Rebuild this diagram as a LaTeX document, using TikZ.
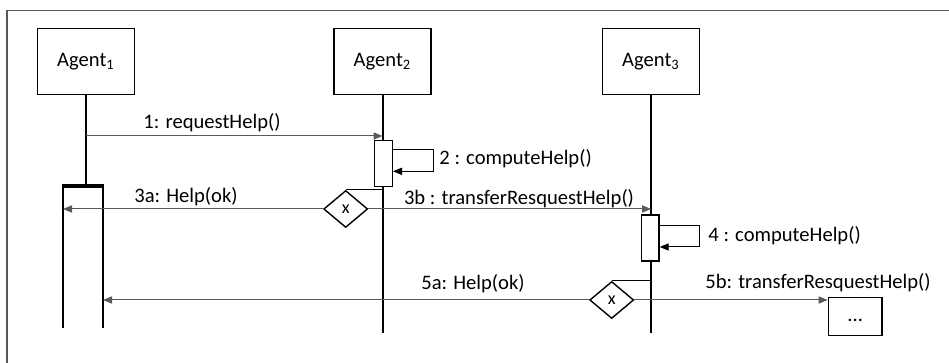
\documentclass[tikz,border=0pt]{standalone}
\usepackage{fontspec}
\setmainfont{Carlito}
\usepackage{tikz}
\usetikzlibrary{arrows.meta, shapes.geometric, positioning, calc}

\begin{document}
\begin{tikzpicture}[x=0.5pt, y=-0.5pt,
  every node/.style={font=\fontsize{10.3}{12}\selectfont},
  agent/.style={rectangle, draw, line width=0.75pt, minimum width=48.5pt,
                minimum height=33pt, inner sep=0pt},
  act/.style={rectangle, draw, fill=white, line width=0.7pt,
              minimum width=8.8pt, minimum height=23pt, inner sep=0pt},
  choice/.style={diamond, draw, fill=white, line width=0.7pt, minimum width=22pt,
                 minimum height=18.5pt, inner sep=0pt, font=\fontsize{9}{10}\selectfont},
  life/.style={line width=1pt},
  msg/.style={-{Triangle[length=4.5pt, width=3.6pt]}, line width=0.5pt, color=black!65},
  selfmsg/.style={-{Triangle[length=4.5pt, width=3.6pt]}, line width=0.5pt},
  link/.style={line width=0.5pt},
  lbl/.style={inner sep=0pt}
]
  \useasboundingbox (0,0) rectangle (949,363);
  % frame
  \draw[black!65, line width=0.6pt] (7,363) -- (7,10.7) -- (949,10.7);

  \node[agent] (a1) at (86,61.5)     {Agent\textsubscript{1}};
  \node[agent] (a2) [right=99pt of a1] {Agent\textsubscript{2}};
  \node[agent] (a3) [right=85pt of a2] {Agent\textsubscript{3}};

  % lifelines
  \coordinate (b1l) at (63,186);
  \coordinate (b1r) at (103,186);
  \coordinate (bot) at (0,332.7);
  \draw[life] (a1) -- (a1 |- b1l);
  \draw[life] (b1l) -- (b1l |- 0,328) (b1r) -- (b1r |- 0,328);
  \draw[line width=1.8pt] ($(b1l)+(-1,0)$) -- ($(b1r)+(1,0)$);
  \draw[life] (a2) -- (a2 |- bot);
  \draw[life] (a3) -- (a3 |- bot);

  \node[act] (act2) at (383.5,163.7) {};
  \node[act] (act3) at (650.2,238) {};

  % 1
  \coordinate (m1) at (86,136);
  \draw[msg] (m1) -- (m1 -| a2);
  \node[lbl] (l1) at (212,123) {1: requestHelp()};

  % 2
  \draw[selfmsg] ($(act2.north east)+(0,10)$) -- ++(40,0) |- ($(act2.north east)+(0,31.3)$);
  \node[lbl, anchor=west] (l2) at (439,159) {2 : computeHelp()};

  % 3a / 3b
  \node[choice] (d1) at (345.7,209) {x};
  \draw[link] (d1.north) -- (d1.north -| a2);
  \draw[msg] (d1) -- (d1 -| b1l);
  \node[lbl] (l3a) at (186,197) {3a: Help(ok)};
  \draw[msg] (d1) -- (d1 -| a3);
  \node[lbl] (l3b) at (519,199) {3b : transferResquestHelp()};

  % 4
  \draw[selfmsg] ($(act3.north east)+(0,11.7)$) -- ++(40,0) |- ($(act3.north east)+(0,32.7)$);
  \node[lbl, anchor=west] (l4) at (708,236) {4 : computeHelp()};

  % 5a / 5b
  \node[choice] (d2) at (611.7,300) {x};
  \draw[link] (d2.north) -- (d2.north -| a3);
  \draw[msg] (d2) -- (d2 -| b1r);
  \node[lbl] (l5a) at (473,284) {5a: Help(ok)};
  \node[rectangle, draw, line width=0.75pt, minimum width=26.85pt,
        minimum height=19pt, inner sep=0pt] (more) at (855.2,316.7) {\strut...};
  \draw[msg] (d2) -- (d2 -| more.west);
  \node[lbl] (l5b) at (818,282.7) {5b: transferResquestHelp()};
\end{tikzpicture}
\end{document}
